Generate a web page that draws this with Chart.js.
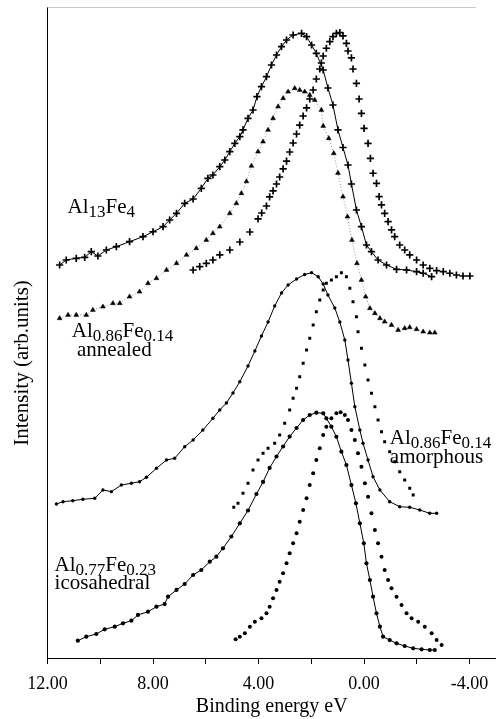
<!DOCTYPE html>
<html>
<head>
<meta charset="utf-8">
<script src="https://cdn.jsdelivr.net/npm/chart.js@4.4.1/dist/chart.umd.min.js"></script>
<style>
  html, body { margin: 0; padding: 0; background: #fff; }
  #wrap { width: 496px; height: 719px; }
</style>
</head>
<body>
<div id="wrap"><canvas id="c" width="496" height="719"></canvas></div>
<script>
// ---- Data (binding energy in eV, intensity in arbitrary units) ----
const tickValues = [12, 10, 8, 6, 4, 2, 0, -2, -4];

// Al13Fe4, broad spectrum (+ with line)
const al13Fe4BroadE = [11.54,11.29,10.91,10.59,10.34,10.09,9.77,9.39,8.89,8.38,8.00,7.62,7.37,7.11,6.80,6.48,6.17,5.92,5.73,5.47,5.28,5.09,4.90,4.71,4.59,4.40,4.21,4.06,3.89,3.70,3.51,3.32,3.13,2.94,2.69,2.37,2.18,1.99,1.81,1.55,1.37,1.18,0.99,0.80,0.61,0.48,0.29,0.10,-0.09,-0.28,-0.53,-0.85,-1.23,-1.61,-1.99,-2.24,-2.56];
const al13Fe4BroadI = [60.37,61.14,61.40,61.55,62.41,61.75,62.67,63.18,63.95,64.72,65.48,66.25,67.28,68.31,69.85,70.51,72.15,73.69,74.19,75.47,76.50,77.77,79.06,80.08,81.11,82.90,84.18,86.22,87.76,89.29,91.09,92.63,93.90,94.93,95.70,95.96,95.44,94.16,92.89,90.32,87.56,84.95,81.11,78.42,75.73,72.81,68.82,66.25,63.44,62.41,61.14,60.37,59.71,59.60,59.34,59.10,58.57];

// Al13Fe4, narrow spectrum (+ only)
const al13Fe4NarrowE = [6.48,6.23,5.98,5.73,5.47,5.09,4.71,4.33,4.02,3.88,3.70,3.58,3.45,3.32,3.20,3.07,2.94,2.82,2.69,2.56,2.44,2.31,2.18,2.06,1.93,1.81,1.68,1.62,1.55,1.43,1.30,1.18,1.05,0.92,0.80,0.67,0.61,0.48,0.42,0.29,0.19,0.10,0.00,-0.15,-0.24,-0.34,-0.47,-0.57,-0.66,-0.78,-0.91,-1.04,-1.16,-1.35,-1.54,-1.73,-1.99,-2.24,-2.49,-2.75,-3.00,-3.25,-3.50,-3.75,-4.01];
const al13Fe4NarrowI = [59.60,60.11,60.63,61.14,61.91,62.67,63.90,65.44,67.44,68.36,69.43,70.82,71.74,72.81,73.89,75.12,76.34,77.73,79.11,80.49,81.87,83.26,84.49,85.87,87.25,88.94,90.48,91.40,92.47,93.66,94.67,95.44,95.96,96.05,95.55,94.42,93.24,92.17,90.48,88.28,85.87,83.67,81.37,79.06,76.76,74.46,72.92,70.86,69.59,68.31,67.02,65.75,64.72,63.44,62.67,61.91,61.14,60.37,59.86,59.49,59.34,59.10,58.83,58.68,58.68];

// Al0.86Fe0.14 annealed (triangles)
const annealedE = [11.54,11.22,10.91,10.53,10.28,9.90,9.52,9.26,8.89,8.51,8.19,7.87,7.49,7.11,6.73,6.36,5.98,5.73,5.47,5.09,4.84,4.65,4.46,4.27,4.02,3.83,3.64,3.45,3.26,3.07,2.88,2.63,2.44,2.25,2.06,1.87,1.62,1.55,1.34,1.15,0.99,0.80,0.63,0.46,0.27,0.10,-0.06,-0.22,-0.41,-0.60,-0.78,-1.04,-1.29,-1.54,-1.73,-1.99,-2.24,-2.49,-2.68];
const annealedI = [52.18,52.69,52.69,52.69,53.46,53.96,54.49,54.49,55.50,56.27,57.56,58.33,59.60,60.63,61.91,62.94,64.21,65.24,66.25,68.31,69.85,71.38,73.20,75.58,77.77,79.31,81.11,82.90,84.69,85.98,86.99,87.51,87.25,86.99,86.48,85.71,84.18,81.72,79.83,77.53,74.50,70.86,67.79,64.21,60.63,58.06,55.50,53.72,52.95,52.18,51.66,51.15,50.38,50.65,50.80,50.49,50.12,49.97,49.97];

// Al0.86Fe0.14 amorphous, broad (dots with line)
const amorphBroadE = [11.66,11.41,11.04,10.66,10.21,9.90,9.58,9.20,8.82,8.51,8.25,7.87,7.49,7.18,6.80,6.48,6.11,5.73,5.47,5.22,4.97,4.71,4.40,4.14,3.89,3.64,3.39,3.13,2.88,2.56,2.25,1.99,1.74,1.55,1.37,1.11,0.92,0.73,0.61,0.48,0.35,0.16,0.04,-0.15,-0.34,-0.60,-0.97,-1.35,-1.73,-2.11,-2.49,-2.75];
const amorphBroadI = [23.66,24.01,24.16,24.38,24.53,25.81,25.55,26.57,26.84,27.08,27.76,29.14,30.41,30.68,32.46,33.49,35.02,36.82,38.10,39.17,40.71,42.44,44.85,47.16,49.46,51.61,54.07,56.07,57.30,58.22,58.91,59.19,58.57,57.45,55.76,53.76,51.61,48.85,45.78,42.20,38.60,35.02,32.98,30.41,27.85,25.81,24.01,23.24,23.15,22.73,22.23,22.23];

// Al0.86Fe0.14 amorphous, narrow (dots only)
const amorphNarrowE = [4.94,4.78,4.59,4.40,4.21,4.02,3.83,3.64,3.39,3.20,3.01,2.82,2.69,2.56,2.44,2.31,2.18,2.06,1.93,1.81,1.68,1.55,1.43,1.24,1.05,0.86,0.67,0.54,0.42,0.29,0.23,0.10,-0.03,-0.15,-0.28,-0.41,-0.53,-0.66,-0.78,-0.97,-1.16,-1.35,-1.54,-1.73,-1.86];
const amorphNarrowI = [23.15,23.76,25.30,26.84,28.88,30.41,31.44,32.21,32.98,34.26,36.05,38.10,39.89,41.43,43.21,45.27,47.31,49.11,51.15,53.20,54.99,56.53,57.56,58.06,58.57,59.19,58.57,56.79,54.73,52.43,50.12,47.57,45.01,42.70,40.66,38.60,36.56,34.76,33.23,31.69,30.15,28.62,27.34,26.07,25.04];

// Al0.77Fe0.23 icosahedral, broad (dots with line)
const icoBroadE = [10.85,10.53,10.15,9.83,9.45,9.14,8.82,8.57,8.19,7.87,7.56,7.43,7.11,6.80,6.48,6.17,5.85,5.60,5.35,5.03,4.71,4.40,4.08,3.83,3.58,3.32,3.07,2.82,2.56,2.31,2.06,1.81,1.55,1.43,1.24,1.05,0.86,0.67,0.48,0.31,0.16,0.01,-0.09,-0.22,-0.34,-0.47,-0.60,-0.72,-0.97,-1.23,-1.54,-1.86,-2.18,-2.49,-2.68];
const icoBroadI = [2.66,3.27,3.69,4.41,4.81,5.33,5.73,6.61,7.11,7.88,8.29,9.42,10.45,11.37,12.75,13.52,14.79,15.56,16.85,18.66,20.69,22.66,25.19,27.04,29.19,30.95,32.49,34.02,35.33,36.56,37.33,37.68,37.59,36.82,35.53,33.99,31.69,29.65,26.57,23.76,20.69,17.62,14.55,11.98,9.42,6.87,4.81,3.27,2.76,2.26,1.84,1.49,1.34,1.23,1.23];

// Al0.77Fe0.23 icosahedral, narrow (dots only)
const icoNarrowE = [4.87,4.71,4.52,4.33,4.14,3.89,3.70,3.58,3.45,3.32,3.20,3.07,2.94,2.82,2.69,2.56,2.44,2.31,2.18,2.06,1.93,1.81,1.68,1.55,1.43,1.24,1.05,0.89,0.73,0.61,0.48,0.35,0.23,0.10,-0.03,-0.15,-0.28,-0.41,-0.53,-0.66,-0.78,-0.91,-1.04,-1.23,-1.42,-1.61,-1.80,-2.05,-2.30,-2.56,-2.75,-2.94];
const icoNarrowI = [2.87,3.27,3.79,4.81,5.58,6.10,6.87,7.88,9.17,10.45,11.72,13.01,14.55,16.08,17.62,19.16,20.94,22.73,24.53,26.57,28.37,30.41,32.21,34.26,35.53,36.82,37.59,37.74,37.33,36.56,35.02,33.49,31.44,29.39,26.84,24.78,22.23,19.66,17.62,15.56,13.52,11.98,10.71,9.42,8.14,6.87,6.10,5.58,4.81,3.79,2.76,2.00];

// Sample labels: text parts (1 = subscript), anchored in data coordinates
const sampleLabels = [
  { lines: [[['Al',0],['13',1],['Fe',0],['4',1]]], e: 11.24, i: 68.3 },
  { lines: [[['Al',0],['0.86',1],['Fe',0],['0.14',1]], [[' annealed',0]]], e: 11.08, i: 49.3 },
  { lines: [[['Al',0],['0.86',1],['Fe',0],['0.14',1]], [['amorphous',0]]], e: -0.975, i: 32.8 },
  { lines: [[['Al',0],['0.77',1],['Fe',0],['0.23',1]], [['icosahedral',0]]], e: 11.73, i: 13.4 }
];

function pts(xs, ys) { return xs.map((x, k) => ({ x: x, y: ys[k] })); }

const SERIF = '"Liberation Serif", "DejaVu Serif", serif';

const labelPlugin = {
  id: 'labels',
  afterDraw(chart) {
    const ctx = chart.ctx;
    const xs = chart.scales.x, ys = chart.scales.y;
    ctx.save();
    ctx.fillStyle = '#000';
    ctx.textBaseline = 'alphabetic';
    ctx.textAlign = 'left';
    sampleLabels.forEach(lab => {
      const x0 = xs.getPixelForValue(lab.e);
      const y0 = ys.getPixelForValue(lab.i);
      lab.lines.forEach((line, li) => {
        let x = x0;
        const y = y0 + li * 18.5;
        line.forEach(([t, sub]) => {
          ctx.font = (sub ? '17px ' : '21px ') + SERIF;
          ctx.fillText(t, x, y + (sub ? 4 : 0));
          x += ctx.measureText(t).width;
        });
      });
    });
    // y-axis title
    ctx.font = '21px ' + SERIF;
    ctx.textAlign = 'center';
    ctx.textBaseline = 'middle';
    ctx.translate(22, 363);
    ctx.rotate(-Math.PI / 2);
    ctx.fillText('Intensity (arb.units)', 0, 0);
    ctx.restore();
    // faint top frame
    const a = chart.chartArea;
    ctx.save();
    ctx.strokeStyle = '#c8c8c8';
    ctx.lineWidth = 1;
    ctx.beginPath();
    ctx.moveTo(a.left, a.top + 0.5);
    ctx.lineTo(a.right - 20, a.top + 0.5);
    ctx.stroke();
    ctx.restore();
  }
};

const plusStyle = { pointStyle: 'cross', pointRadius: 3.6, pointBorderWidth: 1.7, pointBorderColor: '#000', pointBackgroundColor: '#000' };
const dotStyle = { pointStyle: 'circle', pointRadius: 1.7, pointBorderWidth: 0, pointBackgroundColor: '#000', pointBorderColor: '#000' };

new Chart(document.getElementById('c'), {
  type: 'scatter',
  data: {
    datasets: [
      Object.assign({ data: pts(al13Fe4BroadE, al13Fe4BroadI), showLine: true, borderColor: '#000', borderWidth: 1 }, plusStyle),
      Object.assign({ data: pts(al13Fe4NarrowE, al13Fe4NarrowI), showLine: false }, plusStyle),
      { data: pts(annealedE, annealedI), showLine: true, borderColor: '#777', borderWidth: 0.8, borderDash: [1, 2],
        pointStyle: 'triangle', pointRadius: 2.8, pointBorderWidth: 0.5, pointBackgroundColor: '#000', pointBorderColor: '#000' },
      Object.assign({ data: pts(amorphBroadE, amorphBroadI), showLine: true, borderColor: '#000', borderWidth: 1 }, dotStyle),
      Object.assign({ data: pts(amorphNarrowE, amorphNarrowI), showLine: false }, dotStyle, { pointStyle: 'rect', pointRadius: 2.1 }),
      Object.assign({ data: pts(icoBroadE, icoBroadI), showLine: true, borderColor: '#000', borderWidth: 1 }, dotStyle, { pointRadius: 2.1 }),
      Object.assign({ data: pts(icoNarrowE, icoNarrowI), showLine: false }, dotStyle, { pointRadius: 2 })
    ]
  },
  options: {
    responsive: false,
    animation: false,
    events: [],
    layout: { autoPadding: false, padding: { top: 7, right: 0, bottom: 0, left: 0 } },
    plugins: { legend: { display: false }, tooltip: { enabled: false } },
    scales: {
      x: {
        type: 'linear', reverse: true, min: -5, max: 12,
        afterBuildTicks(scale) { scale.ticks = tickValues.map(v => ({ value: v })); },
        afterFit(scale) { scale.height = 61; scale.paddingLeft = 0; scale.paddingRight = 0; },
        ticks: {
          color: '#000', padding: 9, maxRotation: 0, autoSkip: false,
          font: { family: SERIF, size: 18 },
          callback: (v) => (v % 4 === 0 ? v.toFixed(2) : '')
        },
        grid: { display: true, drawOnChartArea: false, drawTicks: true, tickLength: 6, color: '#000', lineWidth: 1 },
        border: { display: true, color: '#000', width: 1 },
        title: { display: true, text: 'Binding energy eV', color: '#000', font: { family: SERIF, size: 20 }, padding: { top: 0, bottom: 0 } }
      },
      y: {
        min: 0, max: 100,
        afterFit(scale) { scale.width = 47.5; },
        ticks: { display: false },
        grid: { display: false },
        border: { display: true, color: '#000', width: 1 }
      }
    }
  },
  plugins: [labelPlugin]
});
</script>
</body>
</html>
